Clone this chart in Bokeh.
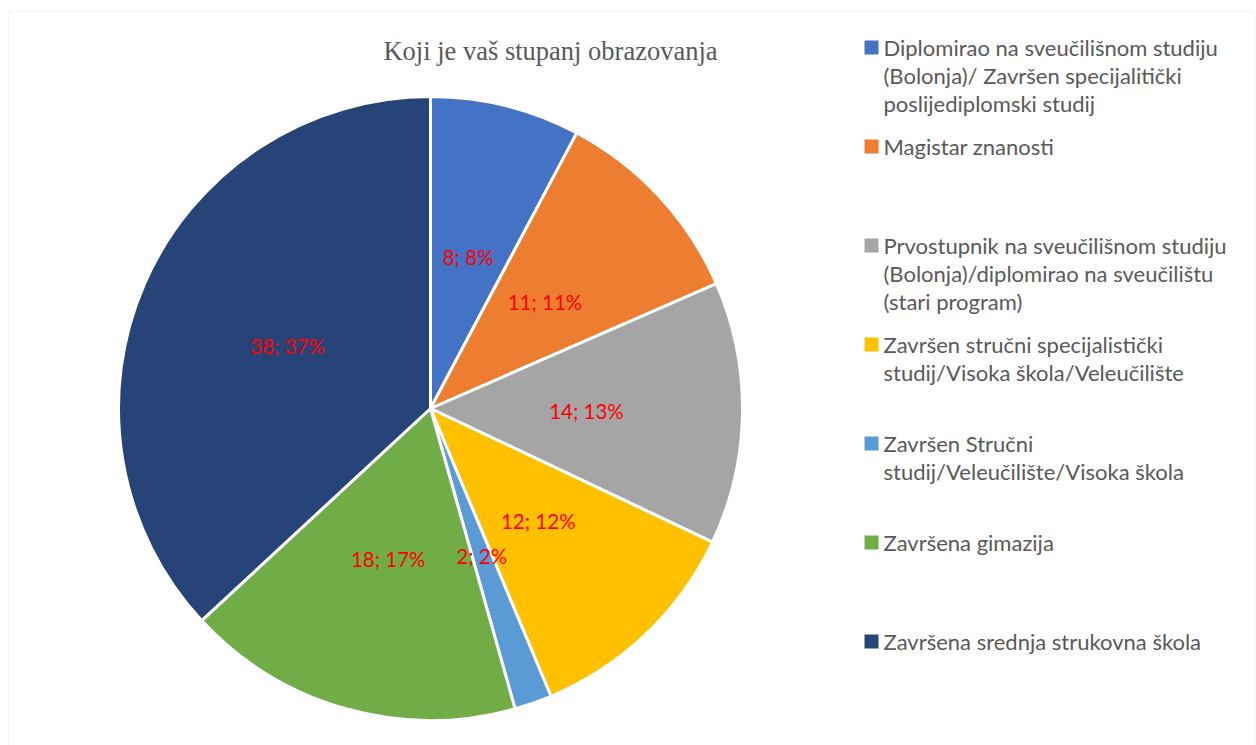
import numpy as np
from bokeh.plotting import figure
from bokeh.models import ColumnDataSource, Range1d, BoxAnnotation
from bokeh.core.properties import value
from bokeh.embed import file_html
from bokeh.resources import INLINE

title = "Koji je vaš stupanj obrazovanja"
categories = [
    "Diplomirao na sveučilišnom studiju\n(Bolonja)/ Završen specijalitički\nposlijediplomski studij",
    "Magistar znanosti",
    "Prvostupnik na sveučilišnom studiju\n(Bolonja)/diplomirao na sveučilištu\n(stari program)",
    "Završen stručni specijalistički\nstudij/Visoka škola/Veleučilište",
    "Završen Stručni\nstudij/Veleučilište/Visoka škola",
    "Završena gimazija",
    "Završena srednja strukovna škola",
]
counts = [8, 11, 14, 12, 2, 18, 38]
percents = [8, 11, 13, 12, 2, 17, 37]
colors = ["#4472C4", "#ED7D31", "#A5A5A5", "#FFC000", "#5B9BD5", "#70AD47", "#264478"]

W, H = 1256, 745
p = figure(width=W, height=H, output_backend="svg", toolbar_location=None,
           x_range=Range1d(0, W), y_range=Range1d(0, H), min_border=0)
p.axis.visible = False
p.grid.visible = False
p.outline_line_color = None
p.background_fill_color = "white"
p.border_fill_color = "white"

# outer frame
p.add_layout(BoxAnnotation(left=8, right=1254, bottom=-10, top=734,
                           fill_alpha=0, line_color="#d9d9d9", line_width=1.5))

# pie
cx, cy, R = 430, 337, 312
vals = np.array(counts, dtype=float)
frac = vals / vals.sum()
cum = np.concatenate([[0], np.cumsum(frac)]) * 2 * np.pi
start = np.pi / 2 - cum[1:]
end = np.pi / 2 - cum[:-1]
mid = (cum[1:] + cum[:-1]) / 2
src = ColumnDataSource(dict(start=start, end=end, color=colors))
p.wedge(x=cx, y=cy, radius=R, start_angle="start", end_angle="end",
        fill_color="color", line_color="white", line_width=3, source=src)

# data labels
lr = 0.5 * R
lx = cx + lr * np.sin(mid)
ly = cy + lr * np.cos(mid)
labels = [f"{c}; {q}%" for c, q in zip(counts, percents)]
p.text(x=lx, y=ly, text=labels, text_color="#FF0000", text_font=value("Lato"),
       text_font_size="20.5px", text_align="center", text_baseline="middle")

# title
p.text(x=[550], y=[695], text=[title], text_color="#595959",
       text_font=value("Liberation Serif"), text_font_size="26.5px",
       text_align="center", text_baseline="middle")

# legend
ly0, step, lstep = 698, 99, 28
sq_x, tx = 871, 883
tx_list, ty_list, tt_list = [], [], []
for i, cat in enumerate(categories):
    for j, line in enumerate(cat.split("\n")):
        tx_list.append(tx)
        ty_list.append(ly0 - i * step - j * lstep)
        tt_list.append(line)
sq_y = [ly0 - i * step for i in range(len(categories))]
p.rect(x=[sq_x] * len(categories), y=sq_y, width=14, height=14,
       fill_color=colors, line_color=None)
p.text(x=tx_list, y=ty_list, text=tt_list, text_color="#595959",
       text_font=value("Lato"), text_font_size="22px",
       text_align="left", text_baseline="middle")

open("out.html", "w").write(file_html(p, INLINE))
